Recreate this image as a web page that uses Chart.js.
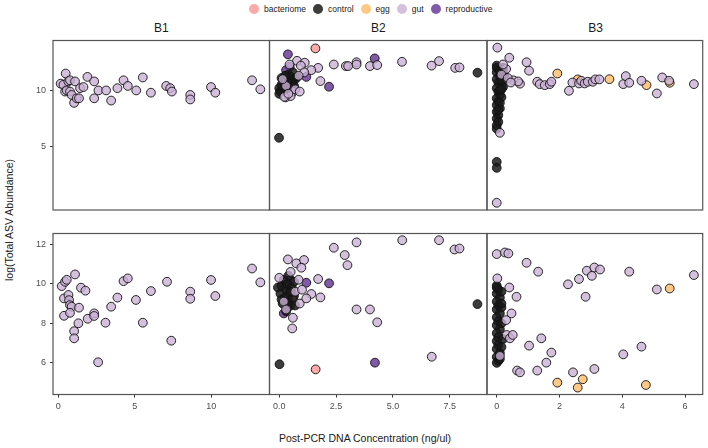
<!DOCTYPE html>
<html>
<head>
<meta charset="utf-8">
<script src="https://cdn.jsdelivr.net/npm/chart.js@4.4.1/dist/chart.umd.min.js"></script>
<style>
  body { margin: 0; width: 708px; height: 448px; position: relative; overflow: hidden; background: #fff;
         font-family: "Liberation Sans", Arial, sans-serif; color: #1a1a1a; }
  canvas { position: absolute; left: 0; top: 0; }
  .strip { position: absolute; top: 21px; font-size: 12px; transform: translateX(-50%); white-space: nowrap; }
  .title { position: absolute; font-size: 10.5px; white-space: nowrap; }
  #legend { position: absolute; left: 249px; top: 4px; display: flex; align-items: center; font-size: 8.5px; }
  #legend span.key { width: 10px; height: 10px; border-radius: 50%; display: inline-block; margin-right: 5px; }
  #legend span.lab { margin-right: 7px; }
</style>
</head>
<body>
<div id="legend"></div>
<div id="strips"></div>
<div class="title" style="left:365px; top:432px; transform:translateX(-50%)">Post-PCR DNA Concentration (ng/ul)</div>
<div class="title" style="left:9px; top:220px; transform:translate(-50%,-50%) rotate(-90deg)">log(Total ASV Abundance)</div>
<script>
// facets and groups
const facets = ['B1', 'B2', 'B3'];
const categories = ['bacteriome', 'control', 'egg', 'gut', 'reproductive'];
const drawOrder = ['gut', 'control', 'bacteriome', 'egg', 'reproductive'];

// axis ranges / ticks (x free per column, y free per row)
const xRanges = [[-0.35, 13.8], [-0.43, 9.14], [-0.31, 6.56]];
const yRanges = [[-0.61, 14.43], [4.40, 12.54]];
const xTicks = [[0, 5, 10], [0, 2.5, 5, 7.5], [0, 2, 4, 6]];
const yTicks = [[5, 10], [6, 8, 10, 12]];

// ---- B1, top row
const b1TopGut = [[0.48,11.5],[0.15,10.6],[0.33,10.5],[0.65,10.8],[0.76,10.9],[1.09,10.8],[0.44,9.9],[0.55,10.0],
  [0.76,9.9],[0.87,9.6],[1.03,8.9],[1.2,9.3],[1.35,9.3],[1.42,10.2],[1.64,10.3],[1.9,11.2],[2.34,10.8],[2.34,9.3],
  [2.62,10.0],[3.12,10.0],[3.45,9.1],[3.86,10.2],[4.26,10.9],[4.54,10.4],[5.09,10.0],[5.52,11.15],[6.05,9.8],
  [7.05,10.4],[7.31,10.2],[7.42,9.9],[8.62,9.6],[8.62,9.2],[9.98,10.3],[10.26,9.8],[12.66,10.9],[13.2,10.1]];
// ---- B1, bottom row
const b1BotGut = [[0.22,9.88],[0.44,10.1],[0.55,10.2],[0.37,9.26],[0.37,8.38],[0.66,9.43],[0.7,9.17],[0.76,8.92],
  [0.87,8.84],[0.76,8.53],[1.09,10.47],[1.35,8.79],[1.03,7.6],[1.03,7.24],[1.31,8.0],[1.48,9.8],[1.77,9.65],
  [1.92,8.23],[2.34,8.5],[2.34,8.37],[2.6,6.03],[3.08,8.03],[3.45,8.84],[3.86,9.3],[4.26,10.13],[4.54,10.27],
  [5.07,9.18],[5.52,8.03],[6.05,9.63],[7.1,10.1],[7.38,7.12],[8.62,9.6],[8.62,9.24],[9.98,10.19],[10.26,9.38],
  [12.66,10.77],[13.2,10.07]];

// ---- B2, top row
const b2TopGut = [[0.78,12.63],[1.12,12.46],[1.71,12.0],[1.41,11.8],[2.4,12.3],[2.93,12.16],[3.03,12.16],[3.4,12.5],
  [3.4,12.3],[3.99,12.16],[4.31,12.25],[5.4,12.54],[6.7,12.2],[7.03,12.6],[7.74,12.0],[7.93,12.04],[1.81,10.83],
  [0.28,9.38],[0.6,9.88],[0.5,9.5],[0.22,9.43],[0.45,12.3],[0.95,12.2],[1.1,11.6],[0.3,10.4],[0.7,10.1],[0.85,11.3],
  [0.15,11.0],[0.9,9.9],[0.4,9.7]];
const b2TopControl = [[8.72,11.57],[-0.01,5.8],[0.0,10.2],[0.05,9.9],[0.1,10.5],[0.2,10.8],[0.3,11.0],[0.35,10.3],
  [0.4,11.4],[0.5,11.2],[0.55,10.6],[0.6,11.6],[0.7,11.0],[0.15,10.0],[0.45,9.9],[0.25,11.3],[0.65,10.4],[0.8,11.2],
  [0.35,10.7],[0.0,9.7],[0.1,11.1],[0.5,10.1]];
const b2TopRepro = [[0.38,13.2],[4.2,12.84],[2.19,10.33],[0.46,12.1],[1.19,11.2],[0.3,11.8],[0.6,10.9],[0.2,10.6]];
const b2TopBact = [[1.59,13.73],[0.55,10.8]];
// ---- B2, bottom row
const b2BotGut = [[2.4,11.82],[3.4,12.09],[5.41,12.2],[7.03,12.2],[7.71,11.73],[7.93,11.78],[2.88,11.45],[3.0,10.94],
  [1.71,10.24],[1.81,9.31],[3.4,8.7],[3.99,8.7],[4.31,8.05],[6.71,6.31],[0.6,8.28],[0.57,7.74],[0.38,11.23],
  [0.75,11.03],[1.09,11.2],[0.97,10.81],[1.41,9.48],[0.9,9.0],[1.19,9.26],[0.0,10.3],[0.2,9.1],[0.5,10.6],
  [0.3,8.7],[0.7,9.6],[0.85,10.2],[1.0,9.7]];
const b2BotControl = [[8.72,8.97],[0.01,5.93],[-0.06,9.81],[0.05,9.5],[0.1,9.9],[0.2,10.2],[0.25,9.3],[0.3,9.7],
  [0.35,10.0],[0.4,9.1],[0.45,9.5],[0.5,8.9],[0.55,9.8],[0.6,9.3],[0.65,10.1],[0.3,8.6],[0.15,9.0],[0.7,8.9],[0.4,10.4],
  [0.1,9.2],[0.5,9.6]];
const b2BotRepro = [[2.19,10.02],[1.19,10.05],[4.21,6.01],[0.38,8.8],[0.3,9.9],[0.5,10.2],[0.65,9.4],[0.2,8.5]];
const b2BotBact = [[1.6,5.67],[0.6,9.2]];

// ---- B3, top row
const b3TopGut = [[0.02,13.8],[0.4,12.9],[0.95,12.5],[1.03,11.75],[1.29,10.77],[1.37,10.56],[1.53,10.47],[1.69,10.56],
  [1.74,10.77],[2.3,9.97],[2.41,10.7],[2.62,10.62],[2.69,10.86],[2.8,10.62],[2.9,10.77],[3.06,10.77],[3.14,10.98],
  [3.27,10.98],[4.03,10.56],[4.11,11.27],[4.22,10.68],[4.61,10.86],[5.1,9.73],[5.27,11.15],[5.49,10.86],[6.28,10.56],
  [0.53,10.9],[0.74,10.6],[0.68,10.8],[0.1,6.24],[0.0,0.03],[0.3,11.9],[0.2,12.3],[0.15,11.4],[0.35,11.1],[0.45,10.7]];
const b3TopControl = [[0.0,3.66],[0.0,3.13],[0.0,12.2],[0.05,11.9],[0.0,11.6],[0.1,11.3],[0.0,11.0],[0.05,10.7],
  [0.15,10.5],[0.0,10.2],[0.05,9.9],[0.1,9.6],[0.0,9.3],[0.05,9.0],[0.0,8.7],[0.1,8.4],[0.0,8.1],[0.05,7.8],
  [0.0,7.5],[0.05,7.2],[0.0,6.9],[0.0,6.6],[0.2,11.7],[0.25,11.2],[0.15,10.9],[0.2,10.3],[0.1,10.0],[0.15,9.4],
  [0.0,12.0],[0.1,11.8],[0.2,12.0],[0.1,8.9],[0.15,10.1],[0.05,8.3]];
const b3TopEgg = [[1.93,11.5],[2.58,10.98],[3.59,11.0],[4.77,10.47],[5.51,10.68]];
// ---- B3, bottom row
const b3BotGut = [[0.0,11.5],[0.26,11.58],[0.37,11.53],[0.95,11.06],[1.32,10.61],[2.27,9.97],[2.62,10.24],[2.87,10.66],
  [3.03,10.4],[3.11,10.82],[3.29,10.72],[2.83,9.34],[4.22,10.61],[5.1,9.71],[6.28,10.44],[0.02,10.27],[0.4,9.81],
  [0.63,9.34],[0.47,8.5],[0.3,8.16],[0.32,7.41],[0.42,7.24],[0.51,7.41],[1.42,7.24],[1.03,6.87],[1.74,6.52],
  [1.58,6.01],[1.29,5.61],[0.65,5.61],[0.74,5.52],[2.43,5.52],[3.11,5.69],[4.03,6.43],[4.61,6.82],[0.1,6.35]];
const b3BotControl = [[0.0,9.9],[0.05,9.7],[0.0,9.5],[0.1,9.3],[0.0,9.1],[0.05,8.9],[0.0,8.7],[0.1,8.5],[0.0,8.3],
  [0.05,8.1],[0.0,7.9],[0.1,7.7],[0.0,7.5],[0.05,7.3],[0.0,7.1],[0.05,6.9],[0.0,6.7],[0.1,6.5],[0.0,6.3],[0.05,6.1],
  [0.0,6.0],[0.15,9.6],[0.15,8.0],[0.2,7.2],[0.15,6.8],[0.0,9.8],[0.15,8.8],[0.1,6.2],[0.15,9.0]];
const b3BotEgg = [[1.93,5.0],[2.74,5.17],[2.58,4.75],[4.75,4.88],[5.51,9.76]];

// panel lookup [row][col] -> {category: points}
const panelData = [
  [{ gut: b1TopGut }, { gut: b2TopGut, control: b2TopControl, bacteriome: b2TopBact, reproductive: b2TopRepro },
   { gut: b3TopGut, control: b3TopControl, egg: b3TopEgg }],
  [{ gut: b1BotGut }, { gut: b2BotGut, control: b2BotControl, bacteriome: b2BotBact, reproductive: b2BotRepro },
   { gut: b3BotGut, control: b3BotControl, egg: b3BotEgg }]
];

// ---- styling
const W = 708, H = 448;
const panelX = [53, 269.5, 487, 704];
const panelY = [[40.5, 210], [233.5, 394.5]];
const yAxisW = 40, xAxisH = 20;
const fills = { bacteriome: 'rgba(251,154,153,0.85)', control: 'rgba(26,26,26,0.85)', egg: 'rgba(253,191,111,0.85)',
                gut: 'rgba(202,178,214,0.8)', reproductive: 'rgba(106,61,154,0.85)' };

Chart.defaults.font.family = '"Liberation Sans", Arial, sans-serif';

const panelBorder = {
  id: 'panelBorder',
  afterDraw(chart) {
    const a = chart.chartArea, ctx = chart.ctx;
    ctx.save();
    ctx.strokeStyle = '#555';
    ctx.lineWidth = 1.2;
    ctx.strokeRect(a.left, a.top, a.right - a.left, a.bottom - a.top);
    ctx.restore();
  }
};

function axis(show, min, max, ticks, fmt, fitProp, size) {
  return {
    type: 'linear', display: show, min: min, max: max,
    afterBuildTicks: s => { s.ticks = ticks.map(v => ({ value: v })); },
    afterFit: s => { s[fitProp] = show ? size : 0; },
    border: { display: false },
    grid: { drawOnChartArea: false, drawTicks: true, tickLength: 3, tickColor: '#333', tickWidth: 1 },
    ticks: { color: '#4d4d4d', font: { size: 9 }, padding: 4, maxRotation: 0, autoSkip: false,
             callback: v => fmt(v) }
  };
}

for (let row = 0; row < 2; row++) {
  for (let col = 0; col < 3; col++) {
    const cv = document.createElement('canvas');
    cv.width = W; cv.height = H;
    document.body.appendChild(cv);
    const showY = col === 0, showX = row === 1;
    const pts = panelData[row][col];
    const datasets = drawOrder.filter(c => pts[c]).map(c => ({
      label: c,
      data: pts[c].map(p => ({ x: p[0], y: p[1] })),
      backgroundColor: fills[c],
      borderColor: '#111',
      borderWidth: 0.9,
      pointRadius: 4.4
    }));
    const fmt = col === 1 ? (v => v.toFixed(1)) : (v => String(v));
    new Chart(cv, {
      type: 'scatter',
      data: { datasets },
      options: {
        responsive: false, animation: false, events: [],
        layout: { padding: {
          left: showY ? panelX[col] - yAxisW : panelX[col],
          right: W - panelX[col + 1],
          top: panelY[row][0],
          bottom: showX ? H - panelY[row][1] - xAxisH : H - panelY[row][1]
        } },
        plugins: { legend: { display: false }, tooltip: { enabled: false } },
        scales: {
          x: axis(showX, xRanges[col][0], xRanges[col][1], xTicks[col], fmt, 'height', xAxisH),
          y: axis(showY, yRanges[row][0], yRanges[row][1], yTicks[row], v => String(v), 'width', yAxisW)
        }
      },
      plugins: [panelBorder]
    });
  }
}

// strip labels
const strips = document.getElementById('strips');
facets.forEach((f, i) => {
  const d = document.createElement('div');
  d.className = 'strip';
  d.style.left = ((panelX[i] + panelX[i + 1]) / 2) + 'px';
  d.textContent = f;
  strips.appendChild(d);
});

// legend
const legend = document.getElementById('legend');
categories.forEach(c => {
  const k = document.createElement('span');
  k.className = 'key';
  k.style.background = fills[c];
  const t = document.createElement('span');
  t.className = 'lab';
  t.textContent = c;
  legend.appendChild(k);
  legend.appendChild(t);
});
</script>
</body>
</html>
